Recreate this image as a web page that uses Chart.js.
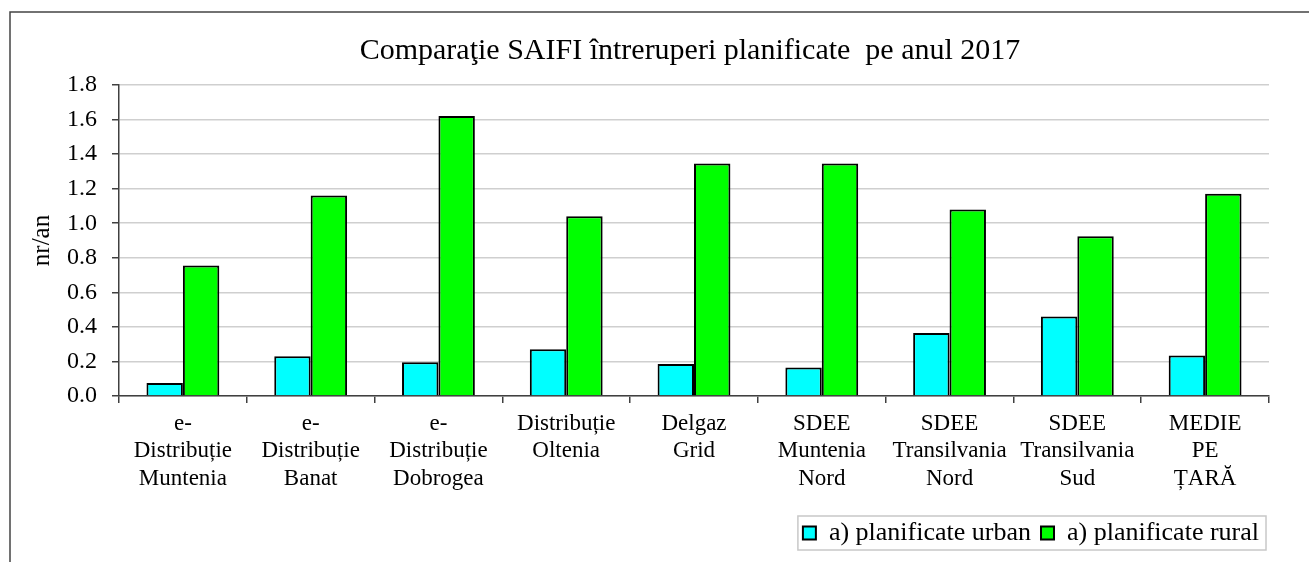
<!DOCTYPE html>
<html><head><meta charset="utf-8">
<script src="https://cdn.jsdelivr.net/npm/chart.js@4"></script>
<style>html,body{margin:0;padding:0;background:#fff;}#wrap{width:1309px;height:562px;position:relative;}</style>
</head><body><div id="wrap"><canvas id="c" width="1309" height="562"></canvas></div>
<script>
const categories = [
  ["e-", "Distribuție", "Muntenia"],
  ["e-", "Distribuție", "Banat"],
  ["e-", "Distribuție", "Dobrogea"],
  ["Distribuție", "Oltenia"],
  ["Delgaz", "Grid"],
  ["SDEE", "Muntenia", "Nord"],
  ["SDEE", "Transilvania", "Nord"],
  ["SDEE", "Transilvania", "Sud"],
  ["MEDIE", "PE", "ȚARĂ"]
];
const urbanValues = [0.075, 0.23, 0.195, 0.27, 0.185, 0.165, 0.365, 0.46, 0.235];
const ruralValues = [0.755, 1.16, 1.62, 1.04, 1.345, 1.345, 1.08, 0.925, 1.17];
const seriesNames = ["a) planificate urban", "a) planificate rural"];
const titleText = "Comparaţie SAIFI întreruperi planificate  pe anul 2017";
const yTitle = "nr/an";

const FONT = "'Liberation Serif', 'Times New Roman', serif";

const framePlugin = {
  id: 'frame',
  afterLayout(chart) {
    const ca = chart.chartArea;
    chart.titleBlock.left = ca.left - 8;
    chart.titleBlock.right = ca.right;
  },
  beforeDraw(chart) {
    const ctx = chart.ctx;
    ctx.save();
    ctx.fillStyle = '#fff';
    ctx.fillRect(0, 0, chart.width, chart.height);
    ctx.strokeStyle = '#444';
    ctx.lineWidth = 1.5;
    ctx.strokeRect(10, 12, 1400, 700);
    ctx.restore();
  },
  afterDraw(chart) {
    const hb = chart.legend.legendHitBoxes;
    if (!hb || !hb.length) return;
    const x0 = Math.min(...hb.map(h => h.left)) - 5;
    const x1 = Math.max(...hb.map(h => h.left + h.width)) + 7;
    const y0 = hb[0].top - 4;
    const y1 = hb[0].top + hb[0].height + 4;
    const ctx = chart.ctx;
    ctx.save();
    ctx.strokeStyle = '#c8c8c8';
    ctx.lineWidth = 1.5;
    ctx.strokeRect(x0, y0, x1 - x0, y1 - y0);
    ctx.restore();
  }
};

new Chart(document.getElementById('c'), {
  type: 'bar',
  data: {
    labels: categories,
    datasets: [
      { label: seriesNames[0], data: urbanValues, backgroundColor: '#00ffff', borderColor: '#000', borderWidth: 2 },
      { label: seriesNames[1], data: ruralValues, backgroundColor: '#00ff00', borderColor: '#000', borderWidth: 2 }
    ]
  },
  options: {
    responsive: false,
    devicePixelRatio: 1,
    animation: false,
    layout: { padding: { left: 0, right: 40, top: 0, bottom: 6 } },
    plugins: {
      title: {
        display: true, text: titleText, color: '#000',
        font: { family: FONT, size: 30, weight: 'normal' },
        padding: { top: 33.5, bottom: 15.5 }
      },
      legend: {
        display: true, position: 'bottom', align: 'end',
        labels: {
          color: '#000', boxWidth: 13, boxHeight: 13, padding: 10,
          font: { family: FONT, size: 26 }
        }
      },
      tooltip: { enabled: false }
    },
    datasets: { bar: { barPercentage: 1.0, categoryPercentage: 0.57 } },
    scales: {
      x: {
        afterFit(scale) { scale.height = 114; },
        grid: { display: true, drawOnChartArea: false, drawTicks: true, tickLength: 7, color: '#404040', offset: true, lineWidth: 1.5 },
        border: { display: true, color: '#404040', width: 1.5 },
        ticks: { color: '#000', maxRotation: 0, autoSkip: false, padding: 7, font: { family: FONT, size: 23, lineHeight: '27.5px' } }
      },
      y: {
        min: 0, max: 1.8,
        afterFit(scale) { scale.width = 119; },
        title: { display: true, text: yTitle, color: '#000', font: { family: FONT, size: 25 }, padding: { top: 27, bottom: 0 } },
        grid: { color: '#cfcfcf', lineWidth: 1.5, tickLength: 7, tickColor: '#404040', drawTicks: true },
        border: { display: true, color: '#404040', width: 1.5 },
        ticks: { stepSize: 0.2, color: '#000', padding: 15, font: { family: FONT, size: 24 },
          callback: (v) => Number(v).toFixed(1) }
      }
    }
  },
  plugins: [framePlugin]
});
</script>
</body></html>
